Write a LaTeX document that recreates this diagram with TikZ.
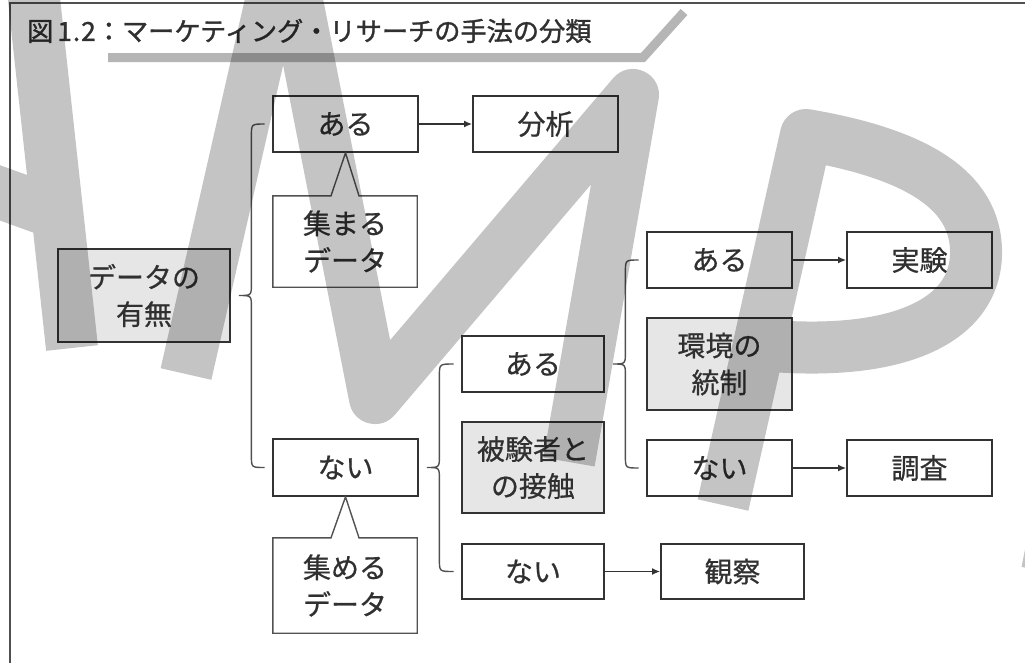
\documentclass[tikz,border=0pt]{standalone}
\usepackage{fontspec}
\setmainfont{Noto Sans CJK JP}[FakeBold=0.6]
\newfontfamily\titlefont{Noto Sans CJK JP}[FakeBold=1.2]
\usetikzlibrary{arrows.meta,calc}
\definecolor{ink}{HTML}{303030}
\definecolor{boxline}{HTML}{333333}
\definecolor{lightfill}{HTML}{E6E6E6}
\definecolor{framecol}{HTML}{505050}
\definecolor{ulinecol}{HTML}{B5B5B5}
\definecolor{wmgray}{HTML}{C4C4C4}
\tikzset{
  every node/.style={font=\fontsize{28}{37}\selectfont, text=ink},
  box/.style={draw=boxline, line width=1.8pt, fill=white, inner sep=0pt, align=center, minimum width=145pt, minimum height=56pt},
  graybox/.style={box, fill=lightfill},
  calloutbox/.style={inner sep=0pt, align=center, minimum width=144pt},
  callout/.style={draw=boxline!85!white, line width=1.4pt, fill=white},
  brace/.style={draw=framecol, line width=1.4pt},
  arr/.style={draw=boxline, line width=1.5pt, -{Latex[length=8pt,width=7pt]}},
  wm/.style={draw=wmgray, blend mode=multiply, line width=52pt, line join=round},
}
\newcommand\bracejoin[3]{%
  \draw[brace] let \p1=(#1.east), \p2=(#2.west), \p3=(#3.west) in
    (\x2-7.5pt,\y2) .. controls (\x1+20.5pt,\y2) .. (\x1+20.5pt,\y2-12pt)
    -- (\x1+20.5pt,\y1+12pt) .. controls (\x1+20.5pt,\y1) .. (\x1+8pt,\y1)
    .. controls (\x1+20.5pt,\y1) .. (\x1+20.5pt,\y1-12pt)
    -- (\x1+20.5pt,\y3+12pt) .. controls (\x1+20.5pt,\y3) .. (\x2-7.5pt,\y3);}
\newcommand\calloutframe[2]{%
  \draw[callout] (#1.north west) -- ($(#1.north)+(-14pt,0)$) -- (#2.south)
    -- ($(#1.north)+(14pt,0)$) -- (#1.north east) -- (#1.south east)
    -- (#1.south west) -- cycle;}
\begin{document}
\begin{tikzpicture}[x=1pt,y=-1pt]
\useasboundingbox (0,0) rectangle (1025,662);
\clip (0,0) rectangle (1025,662);
\fill[white] (0,0) rectangle (1025,662);
% frame
\draw[framecol, line width=2pt] (10,700) -- (10,3) -- (1040,3);
% title
\draw[ulinecol, line width=9pt] (108,57.5) -- (643,57.5) -- (684,12);
\node[anchor=west, inner sep=0pt, font=\fontsize{26.2}{30}\selectfont\titlefont] (title) at (27,31) {図\hspace{4pt}1\hspace{1pt}.\hspace{1pt}2：マーケティング・リサーチの手法の分類};
% nodes
\node[graybox, minimum width=172pt, minimum height=93pt] (root) at (144,295.5) {データの\\有無};
\node[box] (a1) at (345.5,124) {ある};
\node[box] (an) at (545.5,124) {分析};
\node[calloutbox, minimum height=91pt] (c1) at (345,241.5) {};
\node[box, minimum height=57pt] (n1) at (345.5,467.5) {ない};
\node[calloutbox, minimum height=95pt] (c2) at (345,585.5) {};
\node[box, minimum width=142pt] (a2) at (533,364) {ある};
\node[graybox, minimum width=142pt, minimum height=91pt] (h) at (533,467.5) {被験者と\\の接触};
\node[box, minimum width=142pt, minimum height=55pt] (n2) at (533,571.5) {ない};
\node[box, minimum width=143pt, minimum height=55pt] (ob) at (732.5,571.5) {観察};
\node[box] (a3) at (719.5,260) {ある};
\node[box] (ex) at (919.5,260) {実験};
\node[graybox, minimum height=92pt] (env) at (719.5,364) {環境の\\統制};
\node[box] (n3) at (719.5,468) {ない};
\node[box] (sv) at (919.5,468) {調査};
% callouts
\calloutframe{c1}{a1}
\node[calloutbox, minimum height=91pt] at (c1) {集まる\\データ};
\calloutframe{c2}{n1}
\node[calloutbox, minimum height=95pt] at (c2) {集める\\データ};
% braces
\bracejoin{root}{a1}{n1}
\bracejoin{n1}{a2}{n2}
\bracejoin{a2}{a3}{n3}
% arrows
\draw[arr] (a1) -- (an);
\draw[arr] (a3) -- (ex);
\draw[arr] (n3) -- (sv);
\draw[arr] (n2) -- (ob);
% watermark
\draw[wm]
  (33,-10) -- (72,348)
  (-30,182) -- (50,211)
  (186,374) -- (285,-60) -- (375,398) -- (633,95) -- (569,462)
  (723,505) -- (806,135) .. controls (905,152) and (978,185) .. (976,255)
     .. controls (974,320) and (900,358) .. (760,345)
  (1047,572) -- (1112,250);
\end{tikzpicture}
\end{document}
